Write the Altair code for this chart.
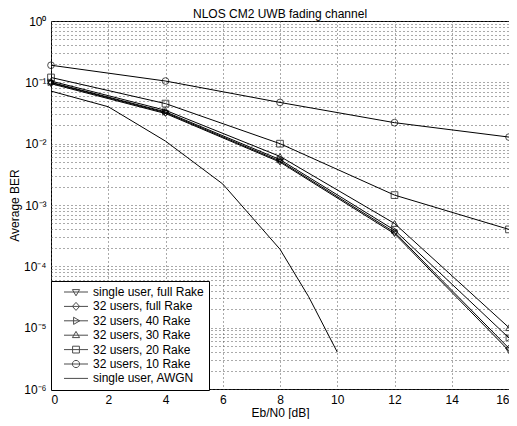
import altair as alt
import pandas as pd

# ---- data ----
x_rake = [0, 4, 8, 12, 16]
ber_single_full = [0.095, 0.031, 0.0050, 3.4e-4, 4.2e-6]
ber_32_full = [0.098, 0.032, 0.0052, 3.6e-4, 4.6e-6]
ber_32_40 = [0.100, 0.033, 0.0055, 3.9e-4, 6.8e-6]
ber_32_30 = [0.105, 0.035, 0.0062, 5.0e-4, 1.0e-5]
ber_32_20 = [0.120, 0.045, 0.0100, 1.45e-3, 4.0e-4]
ber_32_10 = [0.190, 0.105, 0.047, 0.022, 0.0128]
x_awgn = [0, 2, 4, 6, 8, 9, 10]
ber_awgn = [0.072, 0.040, 0.011, 2.2e-3, 1.9e-4, 3.2e-5, 4.0e-6]

series_names = [
    "single user, full Rake",
    "32 users, full Rake",
    "32 users, 40 Rake",
    "32 users, 30 Rake",
    "32 users, 20 Rake",
    "32 users, 10 Rake",
    "single user, AWGN",
]
x_ticks = [0, 2, 4, 6, 8, 10, 12, 14, 16]

rows = []
for name, ys in zip(series_names[:6], [ber_single_full, ber_32_full, ber_32_40,
                                       ber_32_30, ber_32_20, ber_32_10]):
    for xv, yv in zip(x_rake, ys):
        rows.append({"series": name, "x": xv, "ber": yv, "marker": True})
for xv, yv in zip(x_awgn, ber_awgn):
    rows.append({"series": series_names[6], "x": xv, "ber": yv, "marker": False})
df = pd.DataFrame(rows)

y_grid = [m * 10.0 ** k for k in range(-6, 0) for m in range(1, 10)] + [1.0]

font = "Liberation Sans"

x_enc = alt.X("x:Q", scale=alt.Scale(domain=[0, 16], nice=False),
              axis=alt.Axis(values=x_ticks, title="Eb/N0 [dB]", format="d"))
y_enc = alt.Y("ber:Q", scale=alt.Scale(type="log", domain=[1e-6, 1], nice=False),
              axis=alt.Axis(values=y_grid, title="Average BER", labelOverlap=False,
                            labelExpr="abs(log(datum.value)/LN10 - round(log(datum.value)/LN10)) > 0.001 ? '' : "
                                      "['10⁻⁶','10⁻⁵','10⁻⁴','10⁻³','10⁻²','10⁻¹','10⁰'][round(log(datum.value)/LN10)+6]"))

base = alt.Chart(df)

lines = base.mark_line(color="black", strokeWidth=1).encode(
    x=x_enc, y=y_enc, detail="series:N", order="x:Q")

points = base.transform_filter(alt.datum.marker).mark_point(
    filled=False, color="black", size=45, strokeWidth=1).encode(
    x=x_enc, y=y_enc,
    shape=alt.Shape("series:N", legend=None,
                    scale=alt.Scale(domain=series_names[:6],
                                    range=["triangle-down", "diamond", "triangle-right",
                                           "triangle-up", "square", "circle"])))

legend_paths = [
    "M-3,0H3M0,0.95L0.9,-0.6L-0.9,-0.6Z",
    "M-3,0H3M0,-1L0.9,0L0,1L-0.9,0Z",
    "M-3,0H3M0.95,0L-0.6,-0.9L-0.6,0.9Z",
    "M-3,0H3M0,-0.95L0.9,0.6L-0.9,0.6Z",
    "M-3,0H3M-0.85,-0.85H0.85V0.85H-0.85Z",
    "M-3,0H3M0.9,0A0.9,0.9,0,1,1,-0.9,0A0.9,0.9,0,1,1,0.9,0",
    "M-3,0H3",
]

legend_layer = base.transform_filter("datum.x < -1000").mark_point(
    filled=False, color="black", strokeWidth=1).encode(
    x=x_enc, y=y_enc,
    shape=alt.Shape("series:N",
                    scale=alt.Scale(domain=series_names, range=legend_paths),
                    legend=alt.Legend(title=None, orient="none", legendX=0, legendY=260,
                                      symbolSize=64, symbolOffset=14, labelOffset=11,
                                      symbolStrokeColor="black", symbolStrokeWidth=1,
                                      padding=5, rowPadding=2.4,
                                      strokeColor="black", fillColor="white",
                                      labelFont=font, labelFontSize=12, labelColor="black",
                                      labelLimit=300)))

chart = alt.layer(lines, points, legend_layer).resolve_scale(shape="independent").properties(
    width=458, height=368,
    autosize=alt.AutoSizeParams(type="none"),
    padding={"left": 43, "top": 13, "right": 0, "bottom": 30},
    title=alt.TitleParams("NLOS CM2 UWB fading channel", font=font, fontSize=12,
                          fontWeight="normal", color="black", offset=1, anchor="middle",
                          frame="group", dy=7),
).configure_view(stroke="black", strokeWidth=1).configure_axis(
    labelFont=font, labelFontSize=12, labelColor="black",
    titleFont=font, titleFontSize=12, titleColor="black", titleFontWeight="normal",
    domain=False, ticks=False, labelPadding=5,
    grid=True, gridColor="#555555", gridDash=[1, 3], gridWidth=1,
).configure_axisY(titlePadding=2).configure_axisX(titlePadding=2)

chart.save("out.html", embed_options={"renderer": "svg", "actions": False})
